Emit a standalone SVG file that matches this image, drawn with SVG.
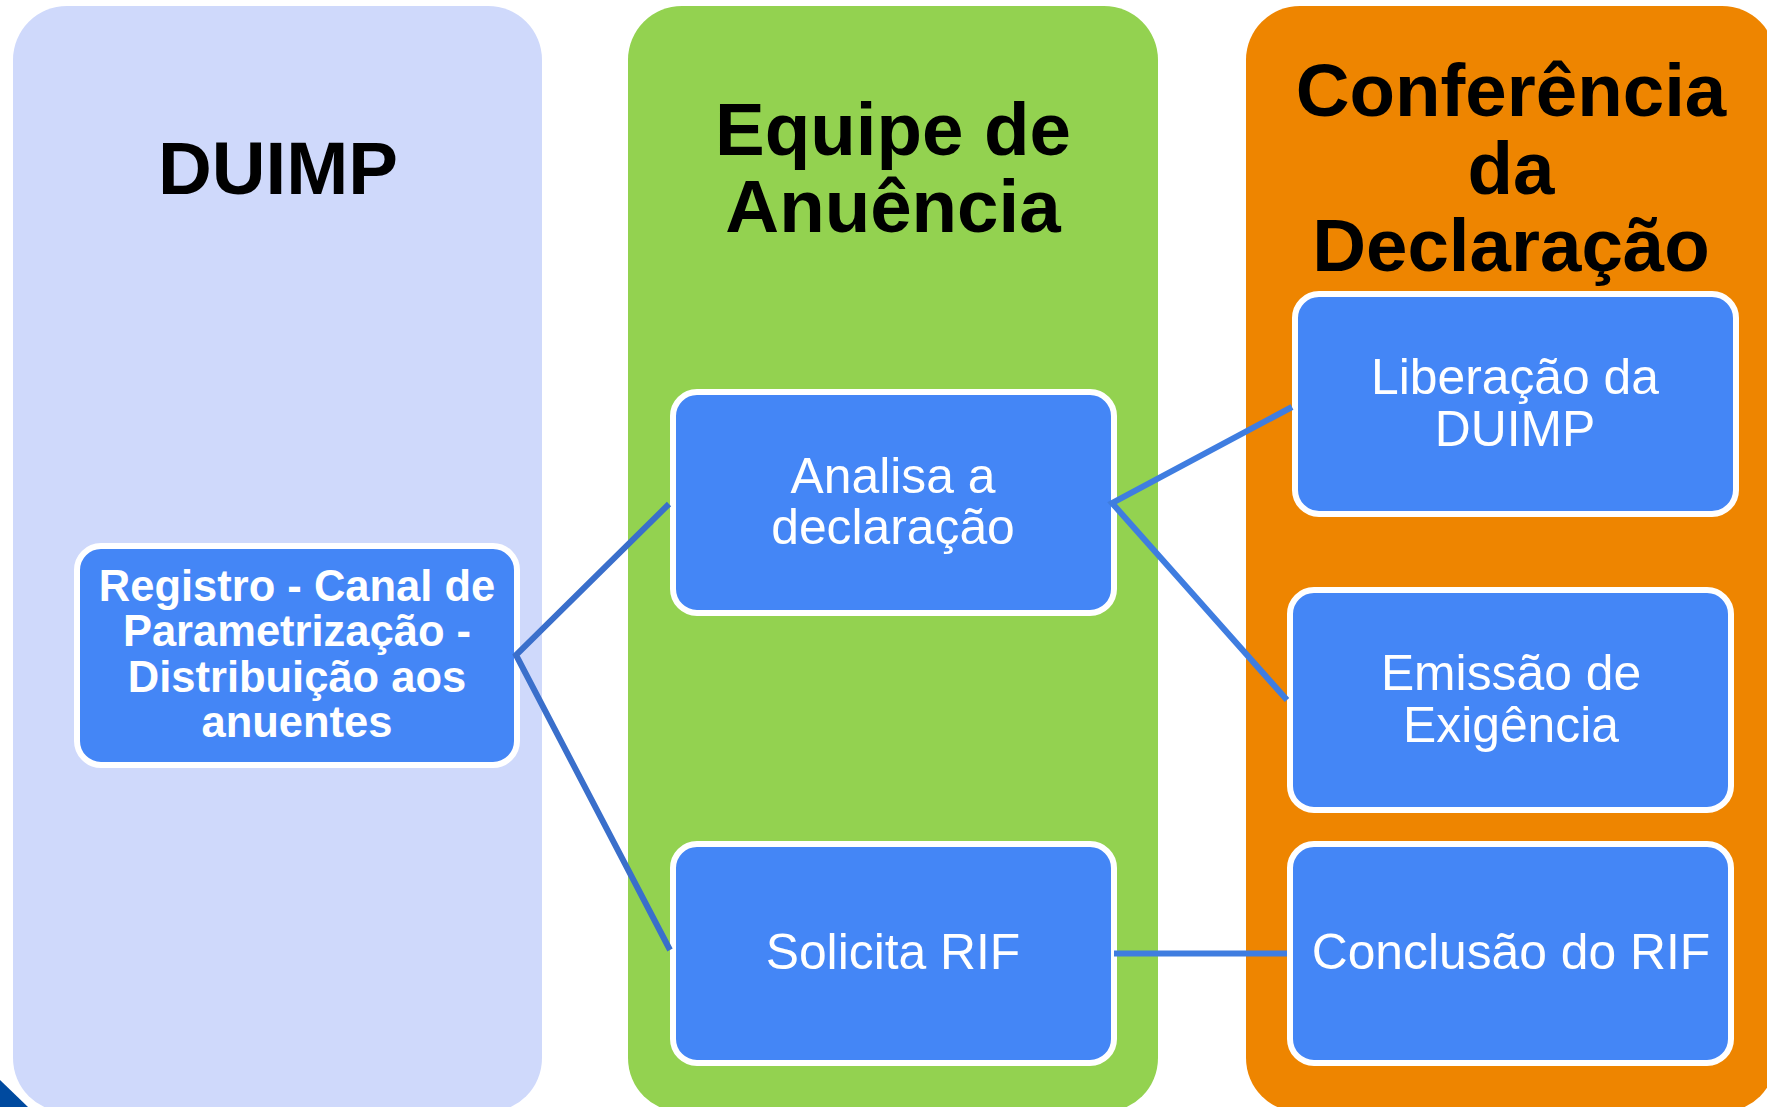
<svg xmlns="http://www.w3.org/2000/svg" width="1767" height="1107" viewBox="0 0 1767 1107">
<style>
text{font-family:"Liberation Sans",Arial,sans-serif;text-anchor:middle}
.title{font-size:74.5px;font-weight:700;fill:#000}
.body{font-size:49.8px;fill:#fff}
.bold{font-size:43.5px;font-weight:700;fill:#fff}
.box{fill:#4486f6;stroke:#fff;stroke-width:6}
.c1{stroke:#3a6fcb;stroke-width:6;fill:none}
.c2{stroke:#3f7de0;stroke-width:6;fill:none}
</style>
<rect width="1767" height="1107" fill="#fff"/>
<polygon points="0,1080 28,1107 0,1107" fill="#004a9f"/>
<g id="col-duimp"><rect x="13" y="6" width="529" height="1106" rx="54" fill="#cfd9fb"/><text class="title" x="278" y="194">DUIMP</text></g>
<g id="col-anuencia"><rect x="628" y="6" width="530" height="1106" rx="54" fill="#93d250"/><text class="title" x="893" y="155">Equipe de</text><text class="title" x="893" y="232">Anuência</text></g>
<g id="col-conferencia"><rect x="1246" y="6" width="530" height="1106" rx="54" fill="#ee8500"/><text class="title" x="1511" y="116">Conferência</text><text class="title" x="1511" y="194">da</text><text class="title" x="1511" y="271">Declaração</text></g>
<g id="registro"><rect class="box" x="77" y="546" width="440" height="219" rx="24"/><text class="bold" x="297" y="601">Registro - Canal de</text><text class="bold" x="297" y="646">Parametrização -</text><text class="bold" x="297" y="692">Distribuição aos</text><text class="bold" x="297" y="737">anuentes</text></g>
<g id="analisa"><rect class="box" x="673" y="392" width="441" height="221" rx="24"/><text class="body" x="893" y="493">Analisa a</text><text class="body" x="893" y="544">declaração</text></g>
<g id="solicita"><rect class="box" x="673" y="844" width="441" height="219" rx="24"/><text class="body" x="893" y="968.500">Solicita RIF</text></g>
<g id="liberacao"><rect class="box" x="1295" y="294" width="441" height="220" rx="24"/><text class="body" x="1515" y="394">Liberação da</text><text class="body" x="1515" y="446">DUIMP</text></g>
<g id="emissao"><rect class="box" x="1290" y="590" width="441" height="220" rx="24"/><text class="body" x="1511" y="690">Emissão de</text><text class="body" x="1511" y="742">Exigência</text></g>
<g id="conclusao"><rect class="box" x="1290" y="844" width="441" height="219" rx="24"/><text class="body" x="1511" y="968.500">Conclusão do RIF</text></g>
<g id="connectors">
<path class="c1" d="M669 504L516 655L670 950"/>
<path class="c2" d="M1292 407L1112 503L1287 700"/>
<path class="c2" d="M1114 953.500H1287"/>
</g>
</svg>
